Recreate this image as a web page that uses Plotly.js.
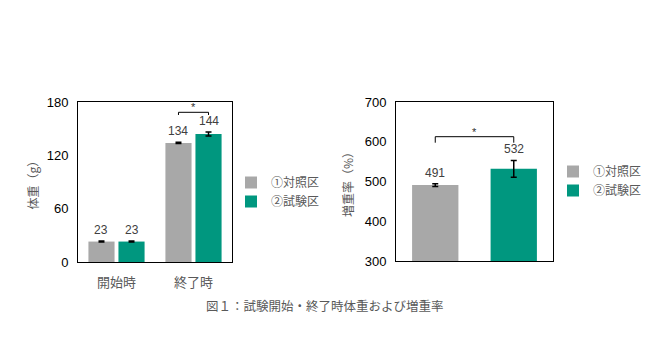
<!DOCTYPE html>
<html>
<head>
<meta charset="utf-8">
<script src="https://cdn.plot.ly/plotly-3.0.1.min.js"></script>
<style>html,body{margin:0;padding:0;background:#fff;}#chart{width:650px;height:347px;}</style>
</head>
<body>
<div id="chart"></div>
<script>
// ---- data ----
const weightCategories = ['開始時', '終了時'];
const controlWeight = [23, 134];
const controlWeightErr = [0.5, 0.8];
const testWeight = [23, 144];
const testWeightErr = [0.5, 2.3];

const gainCategories = ['対照', '試験'];
const controlGain = [491];
const controlGainErr = [3.5];
const testGain = [532];
const testGainErr = [21];

const seriesNames = ['①対照区', '②試験区'];
const weightTitle = '体重（g）';
const gainTitle = '増重率（%）';
const caption = '図１：試験開始・終了時体重および増重率';

// ---- style ----
const GRAY = '#A8A8A8';
const TEAL = '#00977F';
const FONT = 'Liberation Sans, Arial, Noto Sans CJK JP, sans-serif';
const JFONT = 'Noto Sans CJK JP, sans-serif';
const TXT = '#404040';

const err = (arr) => ({type: 'data', array: arr, visible: true, color: '#000', thickness: 1.5, width: 3});

const traces = [
  {type: 'bar', x: weightCategories, y: controlWeight, name: seriesNames[0], marker: {color: GRAY},
   error_y: err(controlWeightErr), xaxis: 'x', yaxis: 'y', legend: 'legend'},
  {type: 'bar', x: weightCategories, y: testWeight, name: seriesNames[1], marker: {color: TEAL},
   error_y: err(testWeightErr), xaxis: 'x', yaxis: 'y', legend: 'legend'},
  {type: 'bar', x: [gainCategories[0]], y: controlGain, name: seriesNames[0], marker: {color: GRAY},
   error_y: err(controlGainErr), xaxis: 'x2', yaxis: 'y2', legend: 'legend2', width: 0.59},
  {type: 'bar', x: [gainCategories[1]], y: testGain, name: seriesNames[1], marker: {color: TEAL},
   error_y: err(testGainErr), xaxis: 'x2', yaxis: 'y2', legend: 'legend2', width: 0.59}
];

const annotations = [];
// value labels (left chart)
const off = 0.195;
controlWeight.forEach((v, i) => annotations.push({xref: 'x', yref: 'y', x: i - off, y: v + controlWeightErr[i],
  text: String(v), showarrow: false, yanchor: 'bottom', yshift: 2, font: {family: FONT, size: 12, color: TXT}}));
testWeight.forEach((v, i) => annotations.push({xref: 'x', yref: 'y', x: i + off, y: v + testWeightErr[i],
  text: String(v), showarrow: false, yanchor: 'bottom', yshift: 2, font: {family: FONT, size: 12, color: TXT}}));
// value labels (right chart)
annotations.push({xref: 'x2', yref: 'y2', x: 0, y: controlGain[0] + controlGainErr[0], text: String(controlGain[0]),
  showarrow: false, yanchor: 'bottom', yshift: 2, font: {family: FONT, size: 12, color: TXT}});
annotations.push({xref: 'x2', yref: 'y2', x: 1, y: testGain[0] + testGainErr[0], text: String(testGain[0]),
  showarrow: false, yanchor: 'bottom', yshift: 2, font: {family: FONT, size: 12, color: TXT}});
// significance stars
annotations.push({xref: 'x', yref: 'y', x: 1, y: 168.4, text: '*', showarrow: false, yanchor: 'bottom', yshift: -3,
  font: {family: FONT, size: 11, color: '#303030'}});
annotations.push({xref: 'x2', yref: 'y2', x: 0.5, y: 612.7, text: '*', showarrow: false, yanchor: 'bottom', yshift: -3,
  font: {family: FONT, size: 11, color: '#303030'}});
// caption
annotations.push({xref: 'paper', yref: 'paper', x: 0.5, y: 1 - 305 / 347, text: caption, showarrow: false,
  xanchor: 'center', yanchor: 'middle', font: {family: JFONT, size: 12.5, color: '#595959'}});

const bracket = (xref, yref, x0, x1, yTop, yBot) => ({type: 'path', xref: xref, yref: yref,
  path: `M ${x0} ${yBot} L ${x0} ${yTop} L ${x1} ${yTop} L ${x1} ${yBot}`, line: {color: '#000', width: 1}});

const shapes = [
  bracket('x', 'y', 1 - off, 1 + off, 168.4, 165.4),
  bracket('x2', 'y2', 0, 1, 612.7, 597.6)
];

const axisCommon = {showline: true, mirror: true, linecolor: '#000', linewidth: 1, ticks: '', showgrid: false,
  zeroline: false, fixedrange: true};

const layout = {
  width: 650, height: 347,
  margin: {l: 0, r: 0, t: 0, b: 0},
  paper_bgcolor: '#fff', plot_bgcolor: '#fff',
  barmode: 'group', bargap: 0.22, bargroupgap: 0.13,
  font: {family: FONT, color: TXT},
  xaxis: Object.assign({}, axisCommon, {domain: [78 / 650, 232 / 650], anchor: 'y', type: 'category',
    tickfont: {family: JFONT, size: 13, color: '#595959'}, ticklabelstandoff: 8}),
  yaxis: Object.assign({}, axisCommon, {domain: [1 - 262 / 347, 1 - 102 / 347], anchor: 'x', range: [0, 180],
    tickvals: [0, 60, 120, 180], tickfont: {family: FONT, size: 13, color: '#000'}, ticklabelstandoff: 6,
    title: {text: weightTitle, font: {family: JFONT, size: 12, color: '#595959'}, standoff: 5}}),
  xaxis2: Object.assign({}, axisCommon, {domain: [396 / 650, 553 / 650], anchor: 'y2', type: 'category',
    showticklabels: false, range: [-0.5, 1.5]}),
  yaxis2: Object.assign({}, axisCommon, {domain: [1 - 261 / 347, 1 - 102 / 347], anchor: 'x2', range: [300, 700],
    tickvals: [300, 400, 500, 600, 700], tickfont: {family: FONT, size: 13, color: '#000'}, ticklabelstandoff: 6,
    title: {text: gainTitle, font: {family: JFONT, size: 12, color: '#595959'}, standoff: 8}}),
  legend: {x: 231 / 650, xanchor: 'left', y: 1 - 192 / 347, yanchor: 'middle', itemwidth: 30,
    font: {family: JFONT, size: 12, color: '#595959'}, bgcolor: 'rgba(0,0,0,0)'},
  legend2: {x: 553 / 650, xanchor: 'left', y: 1 - 181 / 347, yanchor: 'middle', itemwidth: 30,
    font: {family: JFONT, size: 12, color: '#595959'}, bgcolor: 'rgba(0,0,0,0)'},
  annotations: annotations,
  shapes: shapes
};

Plotly.newPlot('chart', traces, layout, {staticPlot: true, displayModeBar: false});
</script>
</body>
</html>
